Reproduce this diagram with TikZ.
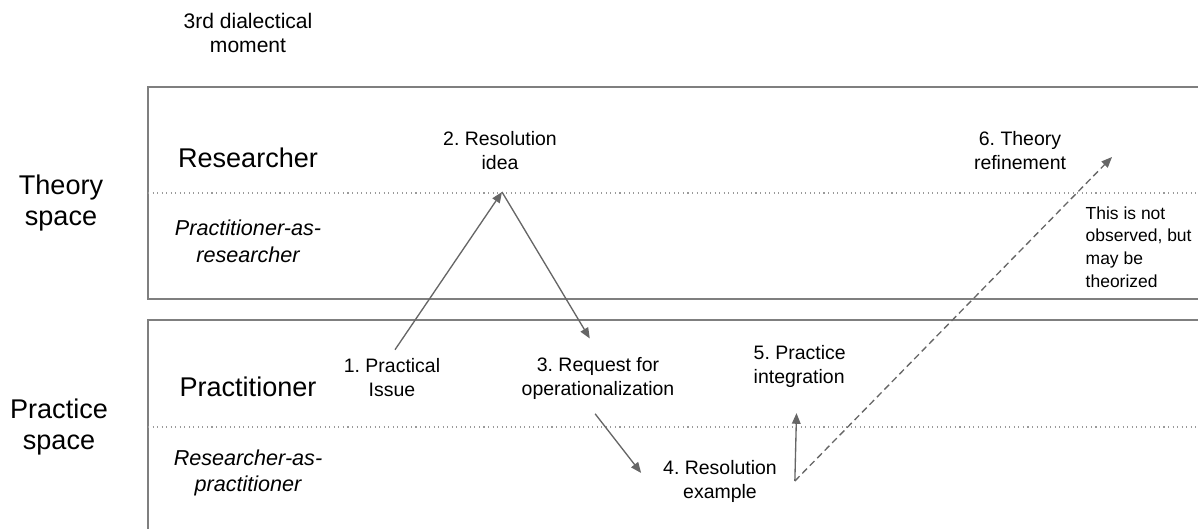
\documentclass[tikz,border=0pt]{standalone}
\usepackage{fontspec}
\setmainfont{Liberation Sans}
\frenchspacing
\usetikzlibrary{arrows.meta}
\definecolor{pfeilgrau}{HTML}{666666}
\definecolor{rahmengrau}{HTML}{7F7F7F}
\definecolor{punktgrau}{HTML}{9A9A9A}
\tikzset{
	gross/.style={font=\fontsize{20.3}{23}\selectfont, align=center},
	rolle/.style={font=\fontsize{16.2}{20}\selectfont\itshape, align=center},
	schritt/.style={font=\fontsize{14.6}{18}\selectfont, align=center},
	hinweis/.style={font=\fontsize{13.1}{17}\selectfont, align=left},
	pfeil/.style={draw=pfeilgrau, line width=1pt, -{Triangle[length=8pt,width=6.5pt]}},
}
\begin{document}
\begin{tikzpicture}[x=0.75pt,y=-0.75pt]
	\useasboundingbox (0,0) rectangle (1198,528);
	\clip (0,0) rectangle (1198,528);
	
	% Rahmen fuer Theorie- und Praxisraum
	\draw[rahmengrau, line width=1pt] (148,87) rectangle (1210,299);
	\draw[rahmengrau, line width=1pt] (148,320) rectangle (1210,540);
	
	% gepunktete Trennlinien
	\foreach \y in {193,427} {
		\draw[punktgrau, line width=0.8pt, dash pattern=on 0.8pt off 2.6pt] (148,\y) -- (1198,\y);
	}
	
	% Beschriftung links
	\node[schritt, font=\fontsize{15.8}{17.5}\selectfont] (moment) at (248,33) {3rd dialectical\\moment};
	\node[gross] (theorie) at (61,203) {Theory\\space};
	\node[gross] (praxis) at (59,427) {Practice\\space};
	\node[gross] (forscher) at (248,158) {Researcher};
	\node[rolle] (pforscher) at (248,241) {Practitioner-as-\\researcher};
	\node[gross] (praktiker) at (248,387) {Practitioner};
	\node[rolle] (fpraktiker) at (248,473) {Researcher-as-\\practitioner};
	
	% Schritte
	\node[schritt] (problem) at (392,378) {1. Practical\\Issue};
	\node[schritt] (idee) at (500,151) {2. Resolution\\idea};
	\node[schritt] (anfrage) at (598,378) {3. Request for\\operationalization};
	\node[schritt] (beispiel) at (720,481) {4. Resolution\\example};
	\node[schritt, align=left, anchor=west] (integration) at (749,366) {5. Practice\\integration};
	\node[schritt] (verfeinerung) at (1020,151) {6. Theory\\refinement};
	\node[hinweis, anchor=west] (notiz) at (1081,247) {This is not\\observed, but\\may be\\theorized};
	
	% Pfeile
	\coordinate (spitze) at (502,192);
	\coordinate (fuss) at ([xshift=10pt]beispiel.east);
	\coordinate (ziel) at (1112,157);
	\draw[pfeil, shorten <=4pt] (problem.north) -- (spitze);
	\draw[pfeil, shorten >=12pt] (spitze) -- (anfrage.north);
	\draw[pfeil, shorten <=9.5pt] ([xshift=-8pt]anfrage.south) -- ([xshift=-13pt,yshift=6pt]beispiel.west);
	\draw[pfeil, shorten >=16pt] (fuss) -- ([xshift=-2pt]integration.south);
	\draw[pfeil, dash pattern=on 5pt off 3pt] (fuss) -- (ziel);
\end{tikzpicture}
\end{document}
